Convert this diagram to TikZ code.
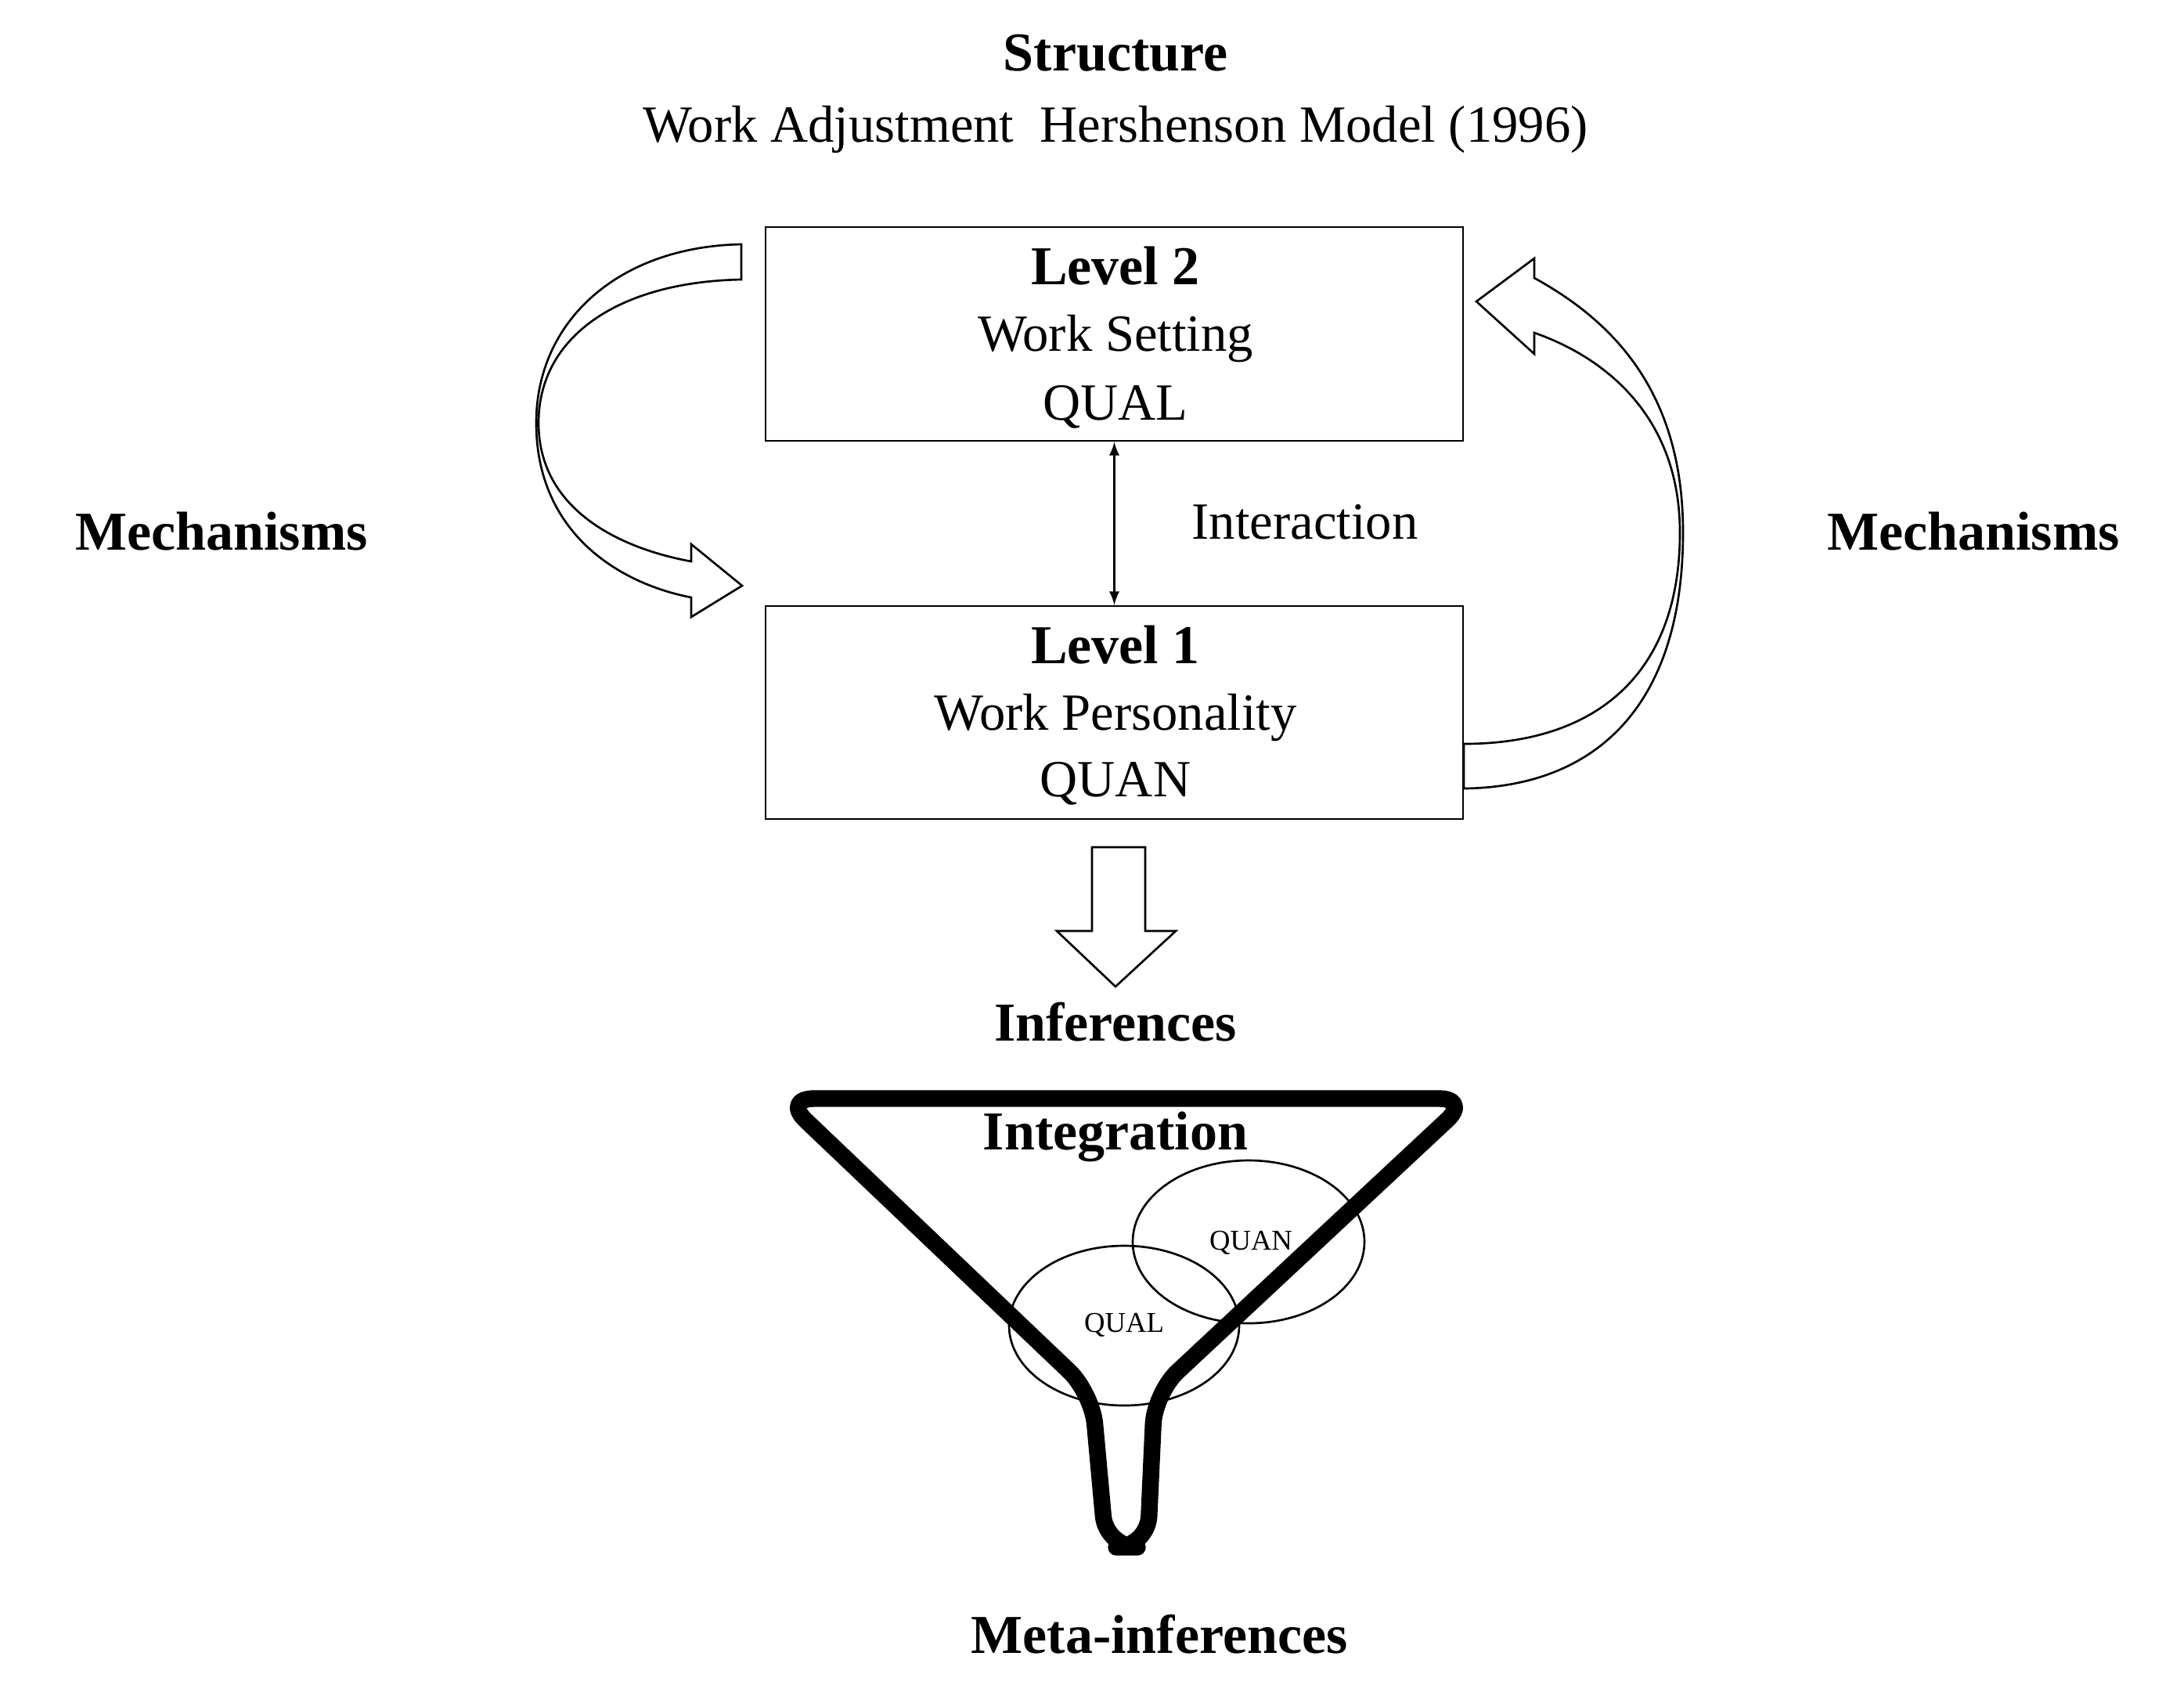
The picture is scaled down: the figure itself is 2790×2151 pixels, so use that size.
\documentclass[tikz,border=0pt]{standalone}
\usepackage{fontspec}
\setmainfont{Liberation Serif}
\begin{document}
\begin{tikzpicture}[x=0.3pt,y=-0.3pt,
  txt/.style={font=\fontsize{20}{22}\selectfont, inner sep=0pt},
  btxt/.style={font=\fontsize{21}{23}\selectfont\bfseries, inner sep=0pt},
  stxt/.style={font=\fontsize{11}{12}\selectfont, inner sep=0pt},
  box/.style={draw, line width=0.8pt},
  hollow/.style={draw, line width=0.8pt, fill=white}]
\useasboundingbox (0,0) rectangle (2790,2151);
\node[btxt] (st) at (1425,68) {Structure};
\node[txt] (sub) at (1425,165) {Work Adjustment\ \ Hershenson Model (1996)};
\node[box, minimum width=891*0.3pt, minimum height=273*0.3pt] (l2) at (1423.5,426.5) {};
\node[box, minimum width=891*0.3pt, minimum height=272*0.3pt] (l1) at (1423.5,910) {};
\node[btxt] at (1425,340) {Level 2};
\node[txt] at (1425,433) {Work Setting};
\node[txt] at (1425,520) {QUAL};
\node[btxt] at (1425,824) {Level 1};
\node[txt] at (1425,917) {Work Personality};
\node[txt] at (1425,1001) {QUAN};
\draw[line width=0.8pt, <->, >=latex] (l2.south) -- (l1.north);
\node[txt] (int) at (1667,667) {Interaction};
\node[btxt] (ml) at (283,679) {Mechanisms};
\node[btxt] (mr) at (2521,679) {Mechanisms};
% left curved arrow
\draw[hollow] (947,312) .. controls (790,315) and (685,410) .. (685,540)
  .. controls (685,680) and (790,745) .. (883,763) -- (883,788) -- (948,748) -- (883,695) -- (883,717)
  .. controls (790,700) and (688,650) .. (688,540) .. controls (688,430) and (790,360) .. (947,357) -- cycle;
% right curved arrow
\draw[hollow] (1870,1007) .. controls (2040,1005) and (2150,900) .. (2150,680)
  .. controls (2150,500) and (2060,410) .. (1960,355) -- (1960,330) -- (1886,385) -- (1960,452) -- (1960,425)
  .. controls (2060,460) and (2146,540) .. (2146,680) .. controls (2146,860) and (2040,950) .. (1870,950) -- cycle;
% down block arrow
\draw[hollow] (1395,1082) -- (1463,1082) -- (1463,1189) -- (1502,1189) -- (1425,1260) -- (1350,1189) -- (1395,1189) -- cycle;
\node[btxt] (inf) at (1425,1305) {Inferences};
% ellipses
\draw[line width=0.8pt] (1595,1586) ellipse [x radius=148, y radius=104];
\draw[line width=0.8pt] (1436,1693) ellipse [x radius=147, y radius=102];
% funnel
\draw[line width=6.4pt, rounded corners=12pt, line join=round] (1000,1403) -- (1878,1403) -- (1475,1779) -- (1466,1976) -- (1413,1976) -- (1395,1779) -- cycle;
\node[btxt] (ig) at (1425,1452) {Integration};
\node[stxt] at (1598,1587) {QUAN};
\node[stxt] at (1436,1692) {QUAL};
\node[btxt] (meta) at (1481,2087) {Meta-inferences};
\end{tikzpicture}
\end{document}
